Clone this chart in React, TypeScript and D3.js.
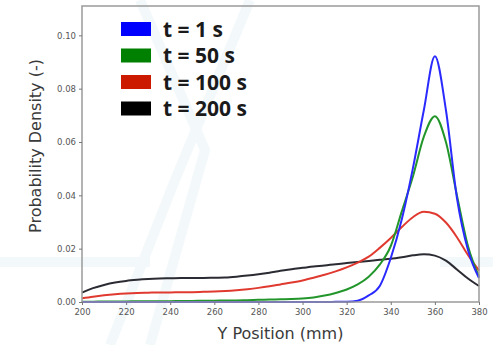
import { useEffect, useRef } from 'react';
import * as d3 from 'd3';

// Y position samples (mm), one per 5 mm
const positions = [
  200, 205, 210, 215, 220, 225, 230, 235, 240, 245, 250, 255, 260, 265, 270, 275, 280, 285, 290,
  295, 300, 305, 310, 315, 320, 325, 330, 335, 340, 345, 350, 355, 360, 365, 370, 375, 380,
];

const density1s = [
  0, 0, 0, 0, 0, 0, 0, 0, 0, 0, 0, 0, 0, 0, 0, 0, 0, 0, 0,
  0, 0, 0, 0, 0.00005, 0.0001, 0.0005, 0.0025, 0.006, 0.0165, 0.031, 0.05, 0.072, 0.0922, 0.072, 0.039, 0.0195, 0.009,
];
const density50s = [
  0.0001, 0.0001, 0.0002, 0.0002, 0.0002, 0.0003, 0.0003, 0.0003, 0.0003, 0.0004, 0.0004, 0.0005, 0.0005, 0.0006, 0.0006, 0.0007, 0.0008, 0.0009, 0.001,
  0.0011, 0.0013, 0.0017, 0.0024, 0.0034, 0.0047, 0.0066, 0.0095, 0.014, 0.021, 0.034, 0.047, 0.062, 0.0697, 0.06, 0.04, 0.021, 0.0095,
];
const density100s = [
  0.0014, 0.002, 0.0025, 0.0029, 0.0032, 0.0034, 0.0035, 0.0036, 0.0036, 0.0037, 0.0037, 0.0038, 0.0039, 0.0041, 0.0044, 0.0048, 0.0053, 0.0059, 0.0066,
  0.0073, 0.0081, 0.0091, 0.0102, 0.0115, 0.013, 0.0148, 0.017, 0.0203, 0.024, 0.0281, 0.0318, 0.0338, 0.0331, 0.0298, 0.0243, 0.0176, 0.0118,
];
const density200s = [
  0.0035, 0.0052, 0.0064, 0.0073, 0.0079, 0.0083, 0.0086, 0.0088, 0.0089, 0.009, 0.009, 0.009, 0.0091, 0.0092, 0.0095, 0.0099, 0.0104, 0.011, 0.0117,
  0.0123, 0.0128, 0.0133, 0.0137, 0.0142, 0.0146, 0.015, 0.0154, 0.0158, 0.0162, 0.0168, 0.0175, 0.0179, 0.0174, 0.0155, 0.0122, 0.0088, 0.006,
];

const seriesLabels = ['t = 1 s', 't = 50 s', 't = 100 s', 't = 200 s'];
const lineColors = ['#2a2aff', '#22962a', '#e03a30', '#2b2b33'];
const patchColors = ['#0000ff', '#008000', '#cc1a00', '#000000'];

const xTicks = [200, 220, 240, 260, 280, 300, 320, 340, 360, 380];
const yTicks = [0, 0.02, 0.04, 0.06, 0.08, 0.1];

const App = () => {
  const svgRef = useRef<SVGSVGElement>(null);

  useEffect(() => {
    const width = 493;
    const height = 345;
    const margin = { top: 6, right: 14, bottom: 43, left: 82 };
    const innerW = width - margin.left - margin.right;
    const innerH = height - margin.top - margin.bottom;

    const svg = d3.select(svgRef.current);
    svg.selectAll('*').remove();

    // very faint watermark in the background
    const wm = svg.append('g').attr('stroke', '#f3f8fa').attr('fill', 'none').attr('stroke-width', 10);
    wm.append('path').attr('d', 'M0,262 L150,262');
    wm.append('path').attr('d', 'M440,262 L493,262');
    wm.append('path').attr('d', 'M110,345 L175,180 L250,0');
    wm.append('path').attr('d', 'M140,0 L205,150 L150,345');

    const g = svg.append('g').attr('transform', `translate(${margin.left},${margin.top})`);

    const x = d3.scaleLinear().domain([200, 380]).range([0, innerW]);
    const y = d3.scaleLinear().domain([0, 0.111]).range([innerH, 0]);

    const series = [density1s, density50s, density100s, density200s];
    const line = d3
      .line<number>()
      .x((_, i) => x(positions[i]))
      .y((d) => y(d))
      .curve(d3.curveMonotoneX);

    // draw the oldest first so t = 1 s sits on top
    [3, 2, 1, 0].forEach((k) => {
      g.append('path')
        .datum(series[k])
        .attr('fill', 'none')
        .attr('stroke', lineColors[k])
        .attr('stroke-width', 2)
        .attr('d', line);
    });

    // frame
    g.append('rect')
      .attr('width', innerW)
      .attr('height', innerH)
      .attr('fill', 'none')
      .attr('stroke', '#9a9a9a')
      .attr('stroke-width', 1.5);

    const xAxis = g
      .append('g')
      .attr('transform', `translate(0,${innerH})`)
      .call(d3.axisBottom(x).tickValues(xTicks).tickSize(3).tickPadding(4).tickFormat(d3.format('d')));
    const yAxis = g
      .append('g')
      .call(d3.axisLeft(y).tickValues(yTicks).tickSize(3).tickPadding(3).tickFormat(d3.format('.2f')));

    [xAxis, yAxis].forEach((ax) => {
      ax.select('.domain').remove();
      ax.selectAll('line').attr('stroke', '#777');
      ax.selectAll('text')
        .attr('fill', '#555')
        .style('font-family', 'DejaVu Sans')
        .style('font-size', '8.5px');
    });

    svg
      .append('text')
      .attr('x', margin.left + innerW / 2)
      .attr('y', 339)
      .attr('text-anchor', 'middle')
      .attr('fill', '#3a3a3a')
      .style('font-family', 'DejaVu Sans')
      .style('font-size', '16px')
      .text('Y Position (mm)');

    svg
      .append('text')
      .attr('transform', `translate(41,${margin.top + innerH / 2 - 8}) rotate(-90)`)
      .attr('text-anchor', 'middle')
      .attr('fill', '#3a3a3a')
      .style('font-family', 'DejaVu Sans')
      .style('font-size', '16px')
      .text('Probability Density (-)');

    // legend
    const legend = svg.append('g').attr('transform', 'translate(121,22)');
    seriesLabels.forEach((label, i) => {
      const row = legend.append('g').attr('transform', `translate(0,${i * 26.5})`);
      row.append('rect').attr('width', 30).attr('height', 14).attr('fill', patchColors[i]);
      row
        .append('text')
        .attr('x', 42)
        .attr('y', 7)
        .attr('dy', '0.36em')
        .attr('fill', '#1a1a1a')
        .style('font-family', 'Open Sans')
        .style('font-weight', 'bold')
        .style('font-size', '21px')
        .text(label);
    });
  }, []);

  return (
    <div>
      <svg
        ref={svgRef}
        width={493}
        height={345}
        style={{ position: 'absolute', left: 0, top: 0, background: '#fff' }}
      ></svg>
    </div>
  );
};

export default App;
